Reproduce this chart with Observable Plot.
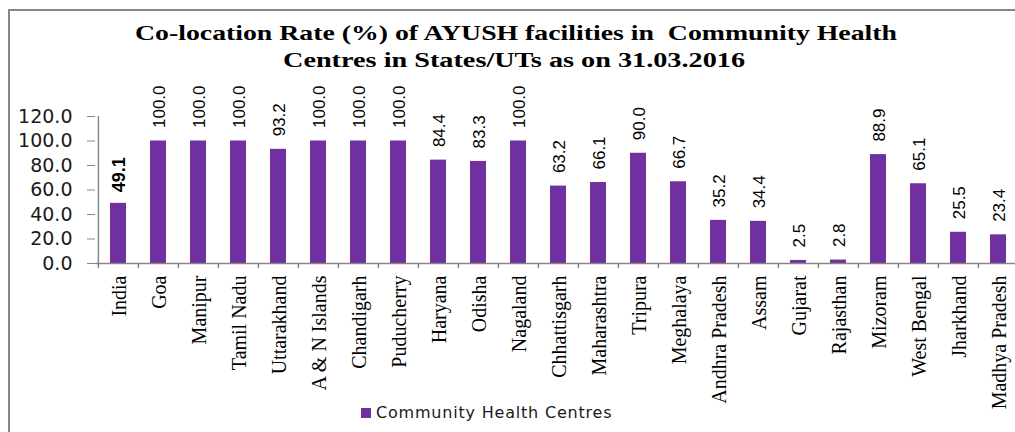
<!DOCTYPE html>
<html>
<head>
<meta charset="utf-8">
<script src="https://cdn.jsdelivr.net/npm/d3@7"></script>
<script src="https://cdn.jsdelivr.net/npm/@observablehq/plot@0.6"></script>
<style>
  html, body { margin: 0; padding: 0; background: #fff; }
  #wrap { position: relative; width: 1015px; height: 432px; overflow: hidden; background: #fff; }
  #frame { position: absolute; left: 8px; top: 9px; width: 1020px; height: 440px;
           border-top: 2.5px solid #878787; border-left: 2.5px solid #878787; box-sizing: border-box; }
  #chart { position: absolute; left: 0; top: 0; width: 1025px; height: 432px; }
  #chart svg { max-width: none !important; width: 1025px; height: 432px; }
  #title { position: absolute; left: 0; top: 0; }
  #legend { position: absolute; left: 361px; top: 403px; font-family: "DejaVu Sans", sans-serif;
            font-size: 16px; letter-spacing: 0.8px; color: #1a1a1a; white-space: nowrap; display: flex; align-items: center; }
  #legend .sw { width: 10px; height: 10px; background: #7030A0; margin-right: 5px; }
</style>
</head>
<body>
<div id="wrap">
  <div id="frame"></div>
  <div id="chart"></div>
  <svg id="title" width="1015" height="80">
    <text x="516" y="40" text-anchor="middle" font-family="Liberation Serif, Times New Roman, serif" font-weight="bold" font-size="22" textLength="762" lengthAdjust="spacingAndGlyphs" style="white-space:pre">Co-location Rate (%) of AYUSH facilities in  Community Health</text>
    <text x="514" y="67" text-anchor="middle" font-family="Liberation Serif, Times New Roman, serif" font-weight="bold" font-size="22" textLength="462" lengthAdjust="spacingAndGlyphs">Centres in States/UTs as on 31.03.2016</text>
  </svg>
  <div id="legend"><span class="sw"></span><span>Community Health Centres</span></div>
</div>
<script>
const states = ["India","Goa","Manipur","Tamil Nadu","Uttarakhand","A & N Islands","Chandigarh","Puducherry","Haryana","Odisha","Nagaland","Chhattisgarh","Maharashtra","Tripura","Meghalaya","Andhra Pradesh","Assam","Gujarat","Rajasthan","Mizoram","West Bengal","Jharkhand","Madhya Pradesh"];
const rates = [49.1,100.0,100.0,100.0,93.2,100.0,100.0,100.0,84.4,83.3,100.0,63.2,66.1,90.0,66.7,35.2,34.4,2.5,2.8,88.9,65.1,25.5,23.4];
const yTicks = [0,20,40,60,80,100,120];

const data = states.map((s, i) => ({state: s, rate: rates[i]}));
const W = 1025, mL = 95, mR = 5;
const step = (W - mL - mR) / states.length;
const gray = "#878787";

const chart = Plot.plot({
  width: W,
  height: 432,
  marginLeft: mL,
  marginRight: mR,
  marginTop: 116,
  marginBottom: 169,
  style: {fontFamily: "DejaVu Sans, sans-serif", fontSize: "19px", color: "#1a1a1a", background: "transparent", maxWidth: "none"},
  x: {type: "band", domain: states, paddingInner: 0.6, paddingOuter: 0.3, axis: null},
  y: {domain: [0, 120], axis: null},
  marks: [
    Plot.barY(data, {x: "state", y: "rate", fill: "#7030A0"}),
    Plot.ruleY([0], {stroke: gray, strokeWidth: 1.5}),
    Plot.ruleX([states[0]], {dx: -step / 2, y1: 0, y2: 120, stroke: gray, strokeWidth: 1.5}),
    Plot.ruleX(states, {x: d => d, dx: -step / 2, y1: 0, y2: -4.2, stroke: gray, strokeWidth: 1.5}),
    Plot.ruleX([states[states.length - 1]], {dx: step / 2, y1: 0, y2: -4.2, stroke: gray, strokeWidth: 1.5}),
    Plot.axisY(yTicks, {tickSize: 8, tickPadding: 15, tickFormat: d3.format(".1f"), stroke: gray, fill: "#1a1a1a", fontSize: 19, label: null}),
    Plot.text(states, {x: d => d, y: 0, text: d => d, rotate: -90, textAnchor: "end", dy: 12, dx: 1,
      fontFamily: "Liberation Serif, Times New Roman, serif", fontSize: 20, fill: "#000"}),
    Plot.text(data.filter(d => d.state === "India"), {x: "state", y: "rate", text: d => d.rate.toFixed(1), rotate: -90, textAnchor: "start", dy: -11, dx: 1,
      fontFamily: "Liberation Sans, Arial, sans-serif", fontSize: 18, fontWeight: "bold", fill: "#000"}),
    Plot.text(data.filter(d => d.state !== "India"), {x: "state", y: "rate", text: d => d.rate.toFixed(1), rotate: -90, textAnchor: "start", dy: -13, dx: 1,
      fontFamily: "Liberation Sans, Arial, sans-serif", fontSize: 17, fill: "#000"})
  ]
});
document.getElementById("chart").appendChild(chart);
</script>
</body>
</html>
